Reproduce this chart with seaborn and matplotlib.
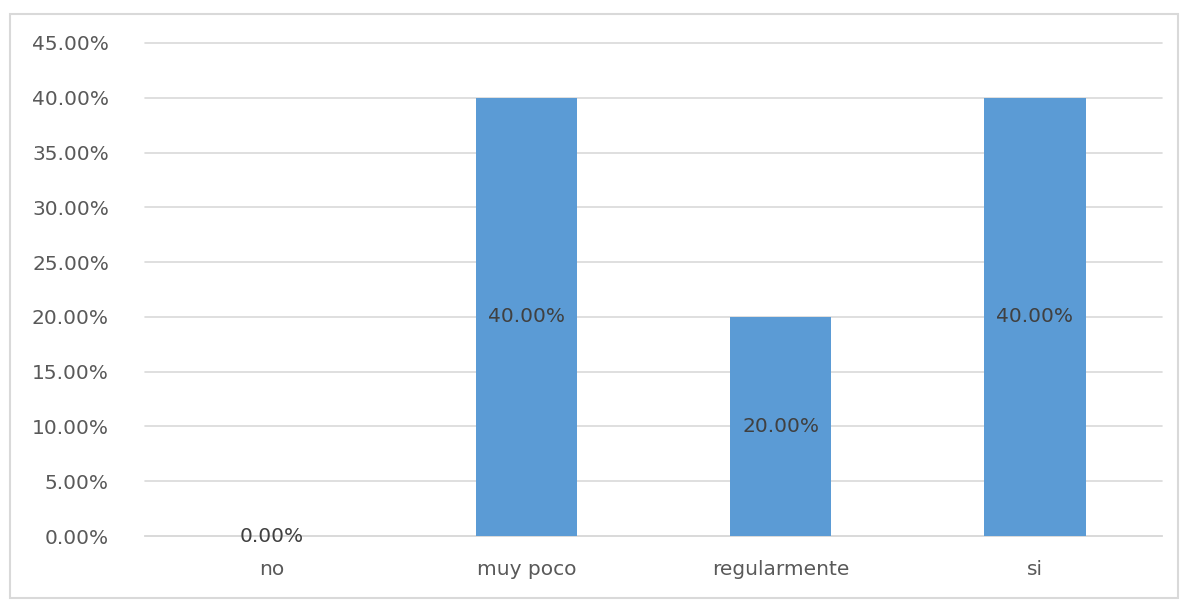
import pandas as pd
import matplotlib.pyplot as plt
import seaborn as sns
from matplotlib.patches import Rectangle

categories = ['no', 'muy poco', 'regularmente', 'si']
percentages = [0.0, 0.40, 0.20, 0.40]
y_ticks = [0.0, 0.05, 0.10, 0.15, 0.20, 0.25, 0.30, 0.35, 0.40, 0.45]

df = pd.DataFrame({'Categoria': categories, 'Porcentaje': percentages})

sns.set_theme(style='white')
plt.rcParams['font.family'] = ['DejaVu Sans']

text_color = '#595959'
grid_color = '#d9d9d9'
bar_color = '#5b9bd5'

fig = plt.figure(figsize=(11.89, 6.02), dpi=100)
ax = fig.add_axes([145 / 1189, 1 - 536 / 602, (1162 - 145) / 1189, (536 - 43) / 602])

sns.barplot(x='Categoria', y='Porcentaje', data=df, color=bar_color,
            width=0.4, saturation=1, linewidth=0, ax=ax, zorder=3)

ax.set_ylim(0, 0.45)
ax.set_xlim(-0.5, len(categories) - 0.5)
ax.set_yticks(y_ticks)
ax.set_yticklabels(['{:.2f}%'.format(t * 100) for t in y_ticks])
ax.yaxis.grid(True, color=grid_color, linewidth=1.2, zorder=0)
for gl in ax.get_ygridlines():
    gl.set_clip_on(False)
ax.set_axisbelow(True)
for s in ['top', 'right', 'left']:
    ax.spines[s].set_visible(False)
ax.spines['bottom'].set_color(grid_color)
ax.spines['bottom'].set_linewidth(1.2)
ax.tick_params(axis='y', length=0, pad=26, labelsize=14.5, labelcolor=text_color)
ax.tick_params(axis='x', length=0, pad=17, labelsize=14.5, labelcolor=text_color)
ax.set_xlabel('')
ax.set_ylabel('')

# etiquetas de datos en el centro de cada barra
for i, v in enumerate(percentages):
    ax.text(i, v / 2, '{:.2f}%'.format(v * 100), ha='center', va='center',
            fontsize=14.5, color='#404040', zorder=5)

# borde del grafico
fig.patches.append(Rectangle((10 / 1189, 1 - 598 / 602), 1168 / 1189, 584 / 602,
                             transform=fig.transFigure, fill=False,
                             edgecolor=grid_color, linewidth=1.5))

fig.savefig('out.png', dpi=100)
